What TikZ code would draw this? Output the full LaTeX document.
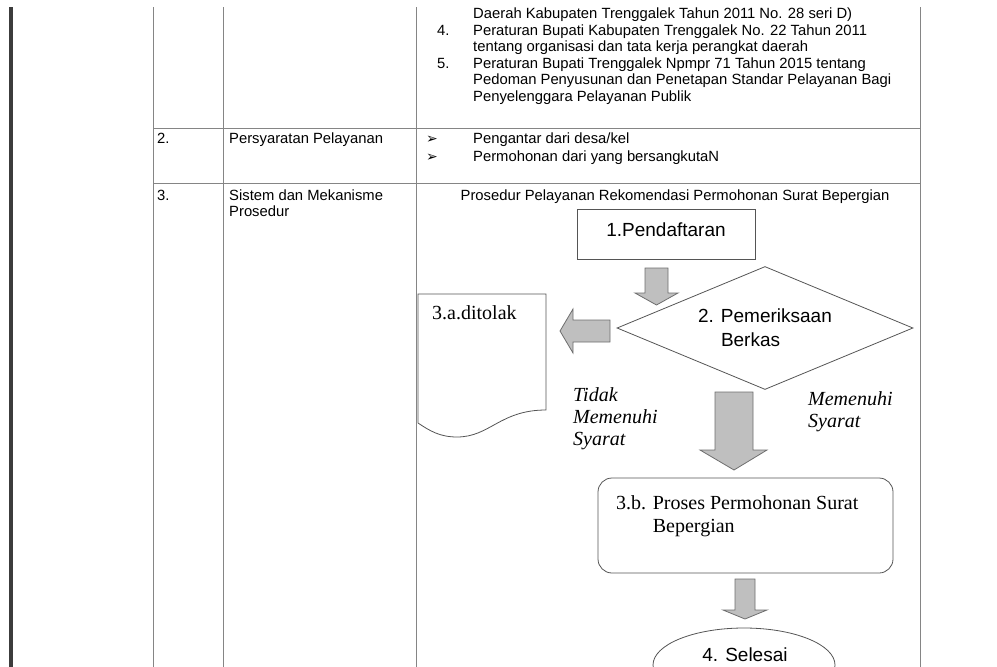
\documentclass[tikz,border=0pt]{standalone}
\usepackage{fontspec}
\setmainfont{Liberation Serif}
\setsansfont{Liberation Sans}
\newfontfamily\dingfont{DejaVu Sans}
\usepackage{xcolor}
\usepackage{tikz}
\usetikzlibrary{shapes.geometric,positioning,calc}

\definecolor{tblline}{HTML}{858585}
\definecolor{shpline}{HTML}{555555}
\definecolor{arrfill}{HTML}{BFBFBF}
\definecolor{arrline}{HTML}{6E6E6E}
\definecolor{pagebar}{HTML}{3C3C3C}

\begin{document}
\begin{tikzpicture}[
  x=1pt, y=-1pt,
  tbl/.style={font=\sffamily\fontsize{14.8}{16.7}\selectfont, anchor=base west, inner sep=0pt, align=left},
  flowtxt/.style={font=\sffamily\fontsize{19}{24}\selectfont},
  sertxt/.style={font=\rmfamily\fontsize{20}{23}\selectfont, anchor=base west, inner sep=0pt, align=left},
  ital/.style={font=\rmfamily\itshape\fontsize{20}{22}\selectfont, anchor=base west, inner sep=0pt, align=left},
  grid/.style={draw=tblline, line width=0.9pt},
  box/.style={draw=shpline, line width=0.8pt, fill=white},
  blk/.style={draw=arrline, fill=arrfill, line width=0.8pt, line join=miter}
]
\useasboundingbox (0,0) rectangle (997,667);
\clip (0,7) rectangle (997,667);

% page edge and table grid
\fill[pagebar] (9,7) rectangle (13,667);
\foreach \gx in {153,223,416,920}
  \draw[grid] (\gx,7) -- (\gx,667);
\draw[grid] (153,128) -- (920,128);
\draw[grid] (153,183) -- (920,183);

% row 1 (legal basis, continued) -- base = last line
\node[tbl] (r1a) at (473,18) {Daerah Kabupaten Trenggalek Tahun 2011 No. 28 seri D)};
\node[tbl] (n4) at (437,35) {4.};
\node[tbl] (r1b) at (473,51.7) {Peraturan Bupati Kabupaten Trenggalek No. 22 Tahun 2011\\tentang organisasi dan tata kerja perangkat daerah};
\node[tbl] (n5) at (437,68) {5.};
\node[tbl] (r1c) at (473,101.4) {Peraturan Bupati Trenggalek Npmpr 71 Tahun 2015 tentang\\Pedoman Penyusunan dan Penetapan Standar Pelayanan Bagi\\Penyelenggara Pelayanan Publik};

% row 2
\node[tbl] (no2) at (157,143) {2.};
\node[tbl] (syarat) at (229,143) {Persyaratan Pelayanan};
\node[tbl, font=\dingfont\fontsize{14}{16}\selectfont] (b1) at (426,143) {➢};
\node[tbl, font=\dingfont\fontsize{14}{16}\selectfont] (b2) at (426,161) {➢};
\node[tbl] (s1) at (473,143) {Pengantar dari desa/kel};
\node[tbl] (s2) at (473,161) {Permohonan dari yang bersangkutaN};

% row 3
\node[tbl] (no3) at (157,200) {3.};
\node[tbl] (sistem) at (229,216.7) {Sistem dan Mekanisme\\Prosedur};
\node[tbl, anchor=base] (judul) at (675,200) {Prosedur Pelayanan Rekomendasi Permohonan Surat Bepergian};

% flow arrows (block shapes)
\draw[blk] (645,268) -- (668,268) -- (668,293) -- (678,293) -- (656.5,305) -- (635,293) -- (645,293) -- cycle;
\draw[blk] (610,320) -- (610,342) -- (573,342) -- (573,353) -- (560,331) -- (573,309) -- (573,320) -- cycle;
\draw[blk] (715,392) -- (753,392) -- (753,450) -- (767,450) -- (734,470) -- (700,450) -- (715,450) -- cycle;
\draw[blk] (735,579) -- (755,579) -- (755,610) -- (767,610) -- (745,619) -- (723,610) -- (735,610) -- cycle;

% flowchart shapes
\node[box, flowtxt, minimum width=178pt, minimum height=50pt, text depth=9pt] (daftar) at (666,234) {1.Pendaftaran};
\node[box, flowtxt, diamond, aspect=2.4, minimum width=296pt, minimum height=123pt, inner sep=0pt, align=left] (periksa) at (765,328) {2. Pemeriksaan\\\phantom{2. }Berkas};
\draw[box] (418,294) -- (546,294) -- (546,410) .. controls (500,410) and (490,437) .. (457,437) .. controls (440,437) and (430,431) .. (418,423) -- cycle;
\node[sertxt] (tolak) at (432,319) {3.a.ditolak};
\node[ital] (tidak) at (573,445) {Tidak\\Memenuhi\\Syarat};
\node[ital] (memenuhi) at (808,427) {Memenuhi\\Syarat};
\node[box, rounded corners=14pt, minimum width=295pt, minimum height=95pt] (proses) at (745.5,525.5) {};
\node[sertxt] (prosestxt) at (616,532) {3.b. Proses Permohonan Surat\\\phantom{3.b. }Bepergian};
\node[box, ellipse, minimum width=182pt, minimum height=74pt] (selesai) at (744,665) {};
\node[flowtxt, anchor=base, inner sep=0pt] (selesaitxt) at (745,661) {4. Selesai};
\end{tikzpicture}
\end{document}
